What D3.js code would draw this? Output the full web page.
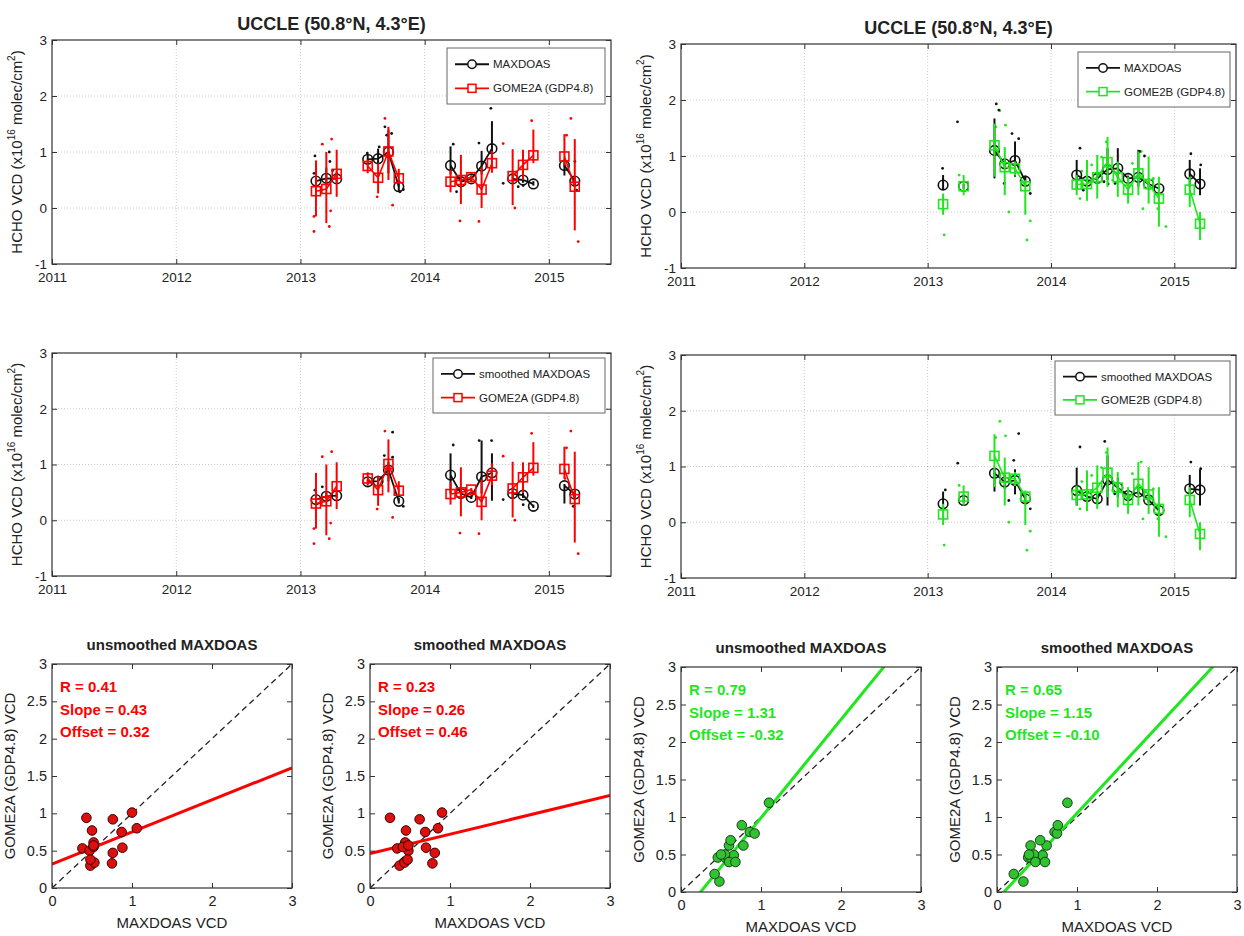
<!DOCTYPE html>
<html><head><meta charset="utf-8">
<script src="https://cdn.jsdelivr.net/npm/d3@7"></script>
<style>
body{margin:0;background:#fff}
text{font-family:"Liberation Sans",Arial,Helvetica,sans-serif;fill:#222}
</style>
</head><body>
<svg id="c" width="1244" height="936"></svg>
<script>
// ---------------- DATA ----------------
const stationTitle = "UCCLE (50.8°N, 4.3°E)";
const yearTicks = [2011, 2012, 2013, 2014, 2015];
const yearDomain = [2011, 2015.5];
const vcdTicks = [-1, 0, 1, 2, 3];
const scatTicksX = [0, 1, 2, 3];
const scatTicksY = [0, 0.5, 1, 1.5, 2, 2.5, 3];

// months for GOME2A (left) and GOME2B (right) comparisons
const monthsL = ["2013-02","2013-03","2013-04","2013-07","2013-08","2013-09","2013-10","2014-03","2014-04","2014-05","2014-06","2014-07","2014-09","2014-10","2014-11","2015-02","2015-03"];
const monthsR = ["2013-02","2013-04","2013-07","2013-08","2013-09","2013-10","2014-03","2014-04","2014-05","2014-06","2014-07","2014-08","2014-09","2014-10","2014-11","2015-02","2015-03"];

// monthly means and error-bar ends (x1e16 molec/cm2)
const maxdoasL   = [0.48,0.53,0.52,0.87,0.88,1.00,0.38,0.76,0.47,0.52,0.75,1.06,0.52,0.50,0.43,0.76,0.48];
const maxdoasLLo = [0.40,0.42,0.45,0.80,0.78,0.62,0.30,0.60,0.40,0.47,0.60,0.85,0.45,0.45,0.40,0.58,0.40];
const maxdoasLHi = [0.75,0.72,0.65,0.95,1.06,1.40,0.50,1.10,0.55,0.58,1.02,1.55,0.60,0.58,0.48,0.87,0.55];
const smoothL    = [0.37,0.43,0.44,0.69,0.70,0.90,0.34,0.81,0.48,0.41,0.78,0.85,0.48,0.45,0.25,0.62,0.47];
const smoothLLo  = [0.30,0.38,0.40,0.65,0.62,0.70,0.30,0.48,0.42,0.38,0.48,0.35,0.40,0.40,0.22,0.30,0.40];
const smoothLHi  = [0.50,0.50,0.50,0.72,0.78,1.05,0.40,1.20,0.55,0.45,1.43,1.20,0.55,0.50,0.28,0.65,0.55];
const gome2a     = [0.30,0.34,0.61,0.75,0.54,1.01,0.53,0.47,0.50,0.55,0.33,0.80,0.57,0.77,0.94,0.92,0.38];
const gome2aLo   = [-0.15,-0.27,0.20,0.62,0.26,0.50,0.45,0.28,0.07,0.47,0.00,0.63,0.05,0.50,0.80,0.76,-0.40];
const gome2aHi   = [0.85,1.00,1.04,0.86,0.80,1.45,0.70,0.68,0.95,0.58,0.73,1.02,1.05,1.04,1.40,1.32,1.23];

const maxdoasR   = [0.48,0.46,1.10,0.86,0.92,0.55,0.66,0.55,0.60,0.76,0.78,0.60,0.62,0.50,0.42,0.68,0.50];
const maxdoasRLo = [0.40,0.42,0.60,0.80,0.63,0.45,0.40,0.50,0.55,0.57,0.60,0.55,0.45,0.45,0.38,0.45,0.30];
const maxdoasRHi = [0.66,0.50,1.67,0.95,1.26,0.65,0.93,0.60,0.65,1.14,1.14,0.65,1.11,0.55,0.45,0.93,0.78];
const smoothR    = [0.33,0.39,0.88,0.72,0.75,0.42,0.57,0.46,0.42,0.76,0.62,0.48,0.54,0.40,0.21,0.60,0.58];
const smoothRLo  = [0.30,0.35,0.55,0.60,0.50,0.35,0.30,0.40,0.35,0.30,0.45,0.40,0.50,0.35,0.18,0.50,0.30];
const smoothRHi  = [0.55,0.50,0.95,0.85,0.95,0.50,0.98,0.55,0.50,1.20,0.80,0.55,0.60,0.45,0.25,0.85,0.95];
const gome2b     = [0.14,0.46,1.19,0.80,0.78,0.46,0.49,0.50,0.62,0.89,0.62,0.40,0.69,0.50,0.24,0.40,-0.21];
const gome2bLo   = [-0.05,0.30,0.63,0.30,0.65,-0.05,0.30,0.20,0.24,0.45,0.27,0.15,0.30,0.15,-0.26,0.09,-0.50];
const gome2bHi   = [0.33,0.66,1.58,1.16,0.90,0.57,0.66,0.93,1.02,1.34,0.90,0.63,1.08,0.99,0.63,0.63,0.00];

// individual (daily) values: [decimal year, value]
const dotsMaxdoasL = [[2013.117,0.93],[2013.109,0.62],[2013.237,0.83],[2013.259,0.67],[2013.232,1.0],[2013.538,0.98],[2013.634,1.09],[2013.680,1.45],[2013.694,1.3],[2013.734,1.33],[2013.801,0.29],[2013.828,0.33],[2014.230,1.14],[2014.257,0.29],[2014.437,1.16],[2014.533,1.78],[2014.632,0.44],[2014.753,0.38],[2014.793,0.40],[2015.209,0.83],[2015.223,0.32]];
const dotsSmoothL  = [[2013.117,0.54],[2013.176,0.60],[2013.675,1.16],[2013.742,1.58],[2013.742,1.13],[2013.828,0.25],[2014.230,1.35],[2014.439,1.43],[2014.539,1.43],[2014.793,0.28],[2014.632,0.37],[2015.196,0.25]];
const dotsGome2a   = [[2013.109,-0.15],[2013.109,-0.42],[2013.176,1.14],[2013.232,-0.33],[2013.251,1.23],[2013.243,-0.05],[2013.618,0.20],[2013.680,1.60],[2013.742,0.05],[2014.284,-0.23],[2014.437,-0.24],[2014.632,1.15],[2014.726,0.0],[2014.861,1.56],[2015.177,1.60],[2015.142,1.30],[2015.236,-0.60],[2015.129,0.75]];
const dotsMaxdoasR = [[2013.121,0.78],[2013.242,1.61],[2013.556,1.93],[2013.577,1.82],[2013.684,1.40],[2013.738,1.31],[2013.620,0.51],[2013.832,0.33],[2014.235,1.14],[2014.262,0.39],[2014.463,0.50],[2014.430,0.54],[2014.520,0.51],[2014.718,1.08],[2014.758,1.0],[2015.134,1.04],[2015.214,0.84]];
const dotsSmoothR  = [[2013.143,0.58],[2013.244,1.06],[2013.738,1.59],[2013.698,1.11],[2013.658,0.39],[2013.832,0.24],[2014.235,1.35],[2014.436,1.45],[2015.134,1.08],[2015.214,0.96],[2014.517,0.51]];
const dotsGome2b   = [[2013.134,-0.41],[2013.255,0.66],[2013.585,1.81],[2013.631,1.55],[2013.551,1.52],[2013.658,0.0],[2013.805,-0.50],[2013.832,-0.16],[2014.449,1.25],[2014.235,0.24],[2014.250,0.73],[2014.330,0.84],[2014.410,0.98],[2014.500,0.57],[2014.660,0.87],[2014.760,0.54],[2014.830,0.60],[2014.745,0.06],[2014.866,0.06],[2014.932,-0.26],[2014.731,1.08]];

// legend labels
const legendMax = ["MAXDOAS", "smoothed MAXDOAS"];
const legendSat = ["GOME2A (GDP4.8)", "GOME2B (GDP4.8)"];

// scatter statistics [R, slope, offset]
const scatterTitles = ["unsmoothed MAXDOAS", "smoothed MAXDOAS", "unsmoothed MAXDOAS", "smoothed MAXDOAS"];
const statNames = ["R", "Slope", "Offset"];
const statsA_unsm = [0.41, 0.43, 0.32];
const statsA_sm   = [0.23, 0.26, 0.46];
const statsB_unsm = [0.79, 1.31, -0.32];
const statsB_sm   = [0.65, 1.15, -0.10];
const scatXLabel = "MAXDOAS VCD";
const scatYLabel = "GOME2A (GDP4.8) VCD";

// ---------------- DRAWING ----------------
const svg = d3.select("#c");
const RED = "#ff0000", GREEN = "#1fe61f";
let clipId = 0;

function monthToYear(k){ const [y,m]=k.split("-").map(Number); return y + (m-0.5)/12; }
function monthIdx(k){ const [y,m]=k.split("-").map(Number); return y*12+m; }

function addClip(p){
  const id = "clip" + (clipId++);
  svg.append("clipPath").attr("id", id).append("rect")
    .attr("x", p.x0).attr("y", p.y0).attr("width", p.x1-p.x0).attr("height", p.y1-p.y0);
  return "url(#" + id + ")";
}

function frame(g, p, x, y, xt, yt, xfmt, yfmt, fs, pad){
  const ax = g.append("g").attr("class","axes");
  ax.append("g").attr("transform",`translate(0,${p.y1})`)
    .call(d3.axisBottom(x).tickValues(xt).tickSize(-5).tickSizeOuter(0).tickPadding(pad).tickFormat(xfmt));
  ax.append("g").attr("transform",`translate(0,${p.y0})`)
    .call(d3.axisTop(x).tickValues(xt).tickSize(-5).tickSizeOuter(0).tickFormat(""));
  ax.append("g").attr("transform",`translate(${p.x0},0)`)
    .call(d3.axisLeft(y).tickValues(yt).tickSize(-5).tickSizeOuter(0).tickPadding(5).tickFormat(yfmt));
  ax.append("g").attr("transform",`translate(${p.x1},0)`)
    .call(d3.axisRight(y).tickValues(yt).tickSize(-5).tickSizeOuter(0).tickFormat(""));
  ax.selectAll(".domain").remove();
  ax.selectAll(".tick line").attr("stroke","#333");
  ax.selectAll("text").style("font-size", fs+"px").attr("fill","#222").style("font-family",'"Liberation Sans",Arial,sans-serif');
  g.append("rect").attr("x",p.x0).attr("y",p.y0).attr("width",p.x1-p.x0).attr("height",p.y1-p.y0)
    .attr("fill","none").attr("stroke","#333").attr("stroke-width",1.2);
}

function drawTS(p, months, blk, blkLo, blkHi, col, colLo, colHi, dotsB, dotsC, color, legIdx, satIdx, leg, title){
  const g = svg.append("g");
  const x = d3.scaleLinear().domain(yearDomain).range([p.x0, p.x1]);
  const y = d3.scaleLinear().domain([vcdTicks[0], vcdTicks[vcdTicks.length-1]]).range([p.y1, p.y0]);
  // grid
  g.selectAll(null).data(yearTicks.slice(1)).join("line")
    .attr("x1",d=>x(d)).attr("x2",d=>x(d)).attr("y1",p.y0).attr("y2",p.y1)
    .attr("stroke","#bdbdbd").attr("stroke-width",0.8).attr("stroke-dasharray","1,2");
  g.selectAll(null).data(vcdTicks.slice(1,-1)).join("line")
    .attr("x1",p.x0).attr("x2",p.x1).attr("y1",d=>y(d)).attr("y2",d=>y(d))
    .attr("stroke","#bdbdbd").attr("stroke-width",0.8).attr("stroke-dasharray","1,2");

  const clip = addClip(p);
  const d = g.append("g").attr("clip-path", clip);
  const t = months.map(monthToYear);
  const idx = months.map(monthIdx);
  const withBreaks = vals => {
    const out = [];
    vals.forEach((v,i)=>{ if(i>0 && idx[i]-idx[i-1]>1) out.push(null); out.push([t[i],v]); });
    return out;
  };
  const line = d3.line().defined(q=>q).x(q=>x(q[0])).y(q=>y(q[1]));

  // individual dots
  d.selectAll(null).data(dotsC).join("circle").attr("cx",q=>x(q[0])).attr("cy",q=>y(q[1])).attr("r",1.4).attr("fill",color);
  d.selectAll(null).data(dotsB).join("circle").attr("cx",q=>x(q[0])).attr("cy",q=>y(q[1])).attr("r",1.4).attr("fill","#111");

  // MAXDOAS (black)
  d.selectAll(null).data(t).join("line").attr("x1",q=>x(q)).attr("x2",q=>x(q))
    .attr("y1",(q,i)=>y(blkLo[i])).attr("y2",(q,i)=>y(blkHi[i])).attr("stroke","#111").attr("stroke-width",2);
  d.append("path").attr("d", line(withBreaks(blk))).attr("fill","none").attr("stroke","#111").attr("stroke-width",1.8);
  d.selectAll(null).data(t).join("circle").attr("cx",q=>x(q)).attr("cy",(q,i)=>y(blk[i])).attr("r",4.8)
    .attr("fill","none").attr("stroke","#111").attr("stroke-width",1.6);

  // satellite (colour)
  d.selectAll(null).data(t).join("line").attr("x1",q=>x(q)).attr("x2",q=>x(q))
    .attr("y1",(q,i)=>y(colLo[i])).attr("y2",(q,i)=>y(colHi[i])).attr("stroke",color).attr("stroke-width",2);
  d.append("path").attr("d", line(withBreaks(col))).attr("fill","none").attr("stroke",color).attr("stroke-width",1.6);
  d.selectAll(null).data(t).join("rect").attr("x",q=>x(q)-4.5).attr("y",(q,i)=>y(col[i])-4.5)
    .attr("width",9).attr("height",9).attr("fill","none").attr("stroke",color).attr("stroke-width",1.6);

  frame(g, p, x, y, yearTicks, vcdTicks, d3.format("d"), q=>String(q), 13.5, 8);

  // y label
  const yl = g.append("text").attr("transform",`translate(${p.x0-30},${(p.y0+p.y1)/2}) rotate(-90)`)
    .attr("text-anchor","middle").style("font-size","15px");
  yl.append("tspan").text("HCHO VCD (x10");
  yl.append("tspan").attr("dy",-7).style("font-size","10px").text("16");
  yl.append("tspan").attr("dy",7).text(" molec/cm");
  yl.append("tspan").attr("dy",-7).style("font-size","10px").text("2");
  yl.append("tspan").attr("dy",7).text(")");

  if(title){
    g.append("text").attr("x",(p.x0+p.x1)/2).attr("y",p.y0-10).attr("text-anchor","middle")
      .style("font-size","18px").style("font-weight","bold").text(title);
  }

  // legend
  const lg = g.append("g");
  lg.append("rect").attr("x",leg.x0).attr("y",leg.y0).attr("width",leg.x1-leg.x0).attr("height",leg.y1-leg.y0)
    .attr("fill","#fff").attr("stroke","#666").attr("stroke-width",1);
  const r1 = leg.y0 + (leg.y1-leg.y0)*0.29, r2 = leg.y0 + (leg.y1-leg.y0)*0.72;
  const lx0 = leg.x0+8, lx1 = leg.x0+42, lm = (lx0+lx1)/2;
  lg.append("line").attr("x1",lx0).attr("x2",lx1).attr("y1",r1).attr("y2",r1).attr("stroke","#111").attr("stroke-width",1.8);
  lg.append("circle").attr("cx",lm).attr("cy",r1).attr("r",4.2).attr("fill","#fff").attr("stroke","#111").attr("stroke-width",1.5);
  lg.append("text").attr("x",lx1+4).attr("y",r1+4).style("font-size","11.5px").text(legendMax[legIdx]);
  lg.append("line").attr("x1",lx0).attr("x2",lx1).attr("y1",r2).attr("y2",r2).attr("stroke",color).attr("stroke-width",1.8);
  lg.append("rect").attr("x",lm-4).attr("y",r2-4).attr("width",8).attr("height",8).attr("fill","#fff").attr("stroke",color).attr("stroke-width",1.5);
  lg.append("text").attr("x",lx1+4).attr("y",r2+4).style("font-size","11.5px").text(legendSat[satIdx]);
}

function drawScatter(p, xs, ys, color, fill, edge, stats, title){
  const g = svg.append("g");
  const x = d3.scaleLinear().domain([0,3]).range([p.x0,p.x1]);
  const y = d3.scaleLinear().domain([0,3]).range([p.y1,p.y0]);
  const clip = addClip(p);
  const d = g.append("g").attr("clip-path", clip);
  d.append("line").attr("x1",x(0)).attr("y1",y(0)).attr("x2",x(3)).attr("y2",y(3))
    .attr("stroke","#222").attr("stroke-width",1.3).attr("stroke-dasharray","6,4");
  const [rv, slope, off] = stats;
  d.append("line").attr("x1",x(0)).attr("y1",y(off)).attr("x2",x(3)).attr("y2",y(off+3*slope))
    .attr("stroke",color).attr("stroke-width",3);
  d.selectAll(null).data(xs).join("circle").attr("cx",q=>x(q)).attr("cy",(q,i)=>y(ys[i])).attr("r",4.8)
    .attr("fill",fill).attr("stroke",edge).attr("stroke-width",1);
  frame(g, p, x, y, scatTicksX, scatTicksY, q=>String(q), q=>String(q), 14.5, 8);
  g.append("text").attr("x",(p.x0+p.x1)/2).attr("y",p.y0-14).attr("text-anchor","middle")
    .style("font-size","15px").style("font-weight","bold").text(title);
  g.append("text").attr("x",(p.x0+p.x1)/2).attr("y",p.y1+40).attr("text-anchor","middle")
    .style("font-size","15px").text(scatXLabel);
  g.append("text").attr("transform",`translate(${p.x0-37},${(p.y0+p.y1)/2}) rotate(-90)`)
    .attr("text-anchor","middle").style("font-size","15px").text(scatYLabel);
  const fmt = d3.format(".2f");
  statNames.forEach((nm,i)=>{
    g.append("text").attr("x",p.x0+8).attr("y",p.y0+28+i*22.5).style("font-size","15px").style("font-weight","bold")
      .style("fill",color).text(nm + " = " + fmt(stats[i]).replace("−","-"));
  });
}

// panels
drawTS({x0:52,x1:611,y0:40,y1:264}, monthsL, maxdoasL, maxdoasLLo, maxdoasLHi, gome2a, gome2aLo, gome2aHi,
  dotsMaxdoasL, dotsGome2a, RED, 0, 0, {x0:447,y0:48,x1:605,y1:104}, stationTitle);
drawTS({x0:681,x1:1236,y0:44,y1:268}, monthsR, maxdoasR, maxdoasRLo, maxdoasRHi, gome2b, gome2bLo, gome2bHi,
  dotsMaxdoasR, dotsGome2b, GREEN, 0, 1, {x0:1078,y0:52,x1:1230,y1:107}, stationTitle);
drawTS({x0:52,x1:611,y0:353,y1:576}, monthsL, smoothL, smoothLLo, smoothLHi, gome2a, gome2aLo, gome2aHi,
  dotsSmoothL, dotsGome2a, RED, 1, 0, {x0:433,y0:358,x1:605,y1:413}, null);
drawTS({x0:681,x1:1236,y0:355,y1:578}, monthsR, smoothR, smoothRLo, smoothRHi, gome2b, gome2bLo, gome2bHi,
  dotsSmoothR, dotsGome2b, GREEN, 1, 1, {x0:1055,y0:361,x1:1230,y1:415}, null);

drawScatter({x0:52,x1:292,y0:664,y1:888}, maxdoasL, gome2a, RED, "#dd1010", "#3a0000", statsA_unsm, scatterTitles[0]);
drawScatter({x0:370,x1:610,y0:664,y1:888}, smoothL, gome2a, RED, "#dd1010", "#3a0000", statsA_sm, scatterTitles[1]);
drawScatter({x0:681,x1:921,y0:667,y1:892}, maxdoasR, gome2b, GREEN, "#2fc42f", "#1a3a1a", statsB_unsm, scatterTitles[2]);
drawScatter({x0:997,x1:1237,y0:667,y1:892}, smoothR, gome2b, GREEN, "#2fc42f", "#1a3a1a", statsB_sm, scatterTitles[3]);
</script>
</body></html>
